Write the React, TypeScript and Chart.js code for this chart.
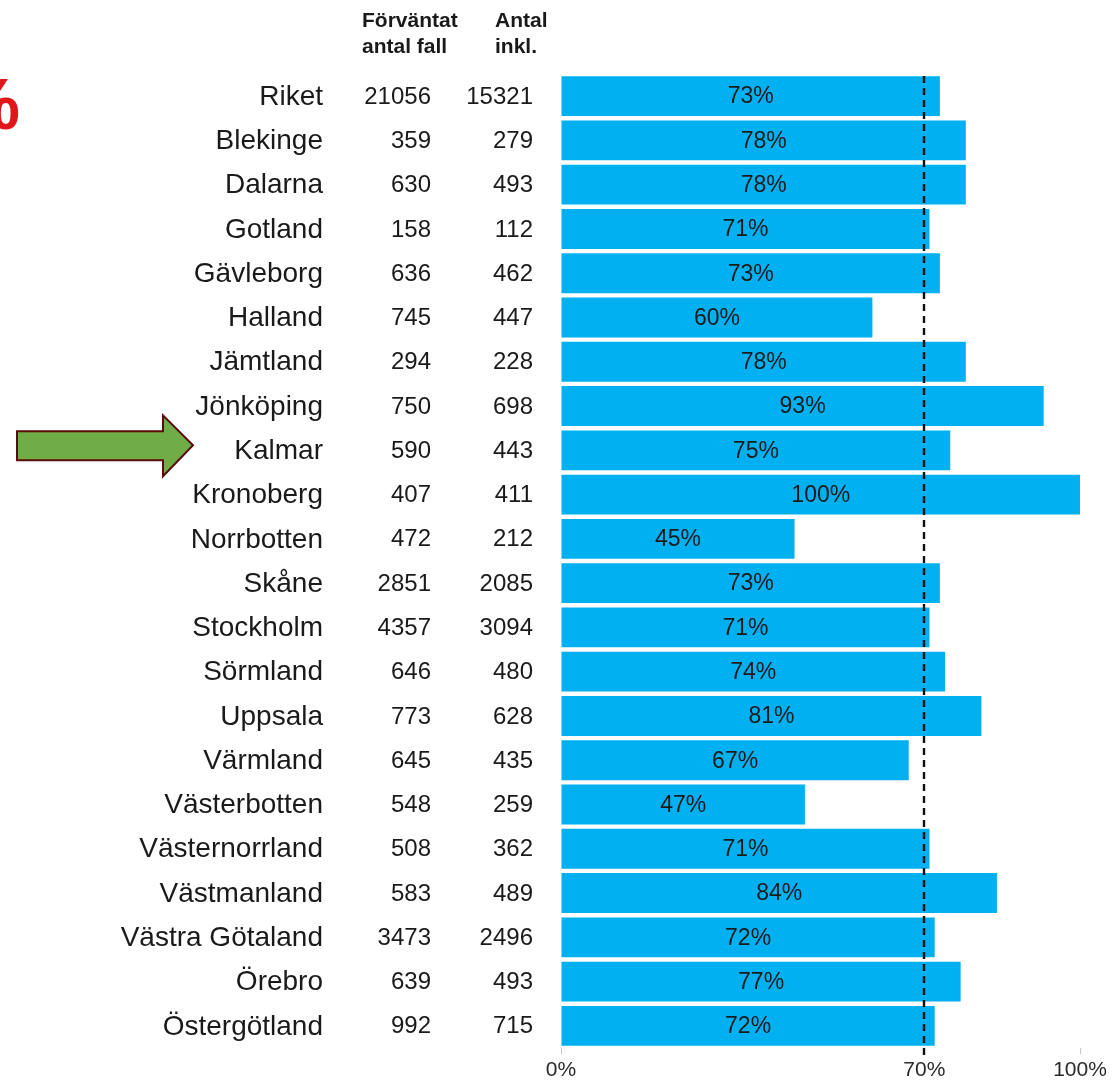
import React, { useEffect, useRef } from "react";
import { Chart, registerables } from "chart.js";

Chart.register(...registerables);

const categories = [
  "Riket", "Blekinge", "Dalarna", "Gotland", "Gävleborg", "Halland", "Jämtland",
  "Jönköping", "Kalmar", "Kronoberg", "Norrbotten", "Skåne", "Stockholm", "Sörmland",
  "Uppsala", "Värmland", "Västerbotten", "Västernorrland", "Västmanland",
  "Västra Götaland", "Örebro", "Östergötland",
];
const expectedCases = [
  21056, 359, 630, 158, 636, 745, 294, 750, 590, 407, 472, 2851, 4357, 646, 773, 645,
  548, 508, 583, 3473, 639, 992,
];
const includedCases = [
  15321, 279, 493, 112, 462, 447, 228, 698, 443, 411, 212, 2085, 3094, 480, 628, 435,
  259, 362, 489, 2496, 493, 715,
];
const coverage = [
  73, 78, 78, 71, 73, 60, 78, 93, 75, 100, 45, 73, 71, 74, 81, 67, 47, 71, 84, 72, 77, 72,
];
const xTicks = [0, 70, 100];
const targetLevel = 70;
const highlighted = "Kalmar";
const headerExpected = ["Förväntat", "antal fall"];
const headerIncluded = ["Antal", "inkl."];

const FONT = '"Liberation Sans", Arial, sans-serif';

const overlayPlugin = {
  id: "overlay",
  afterDatasetsDraw(chart: any) {
    const ctx = chart.ctx;
    const x = chart.scales.x;
    const y = chart.scales.y;
    const area = chart.chartArea;
    ctx.save();

    // bar value labels
    const meta = chart.getDatasetMeta(0);
    ctx.font = `23px ${FONT}`;
    ctx.fillStyle = "#1a1a1a";
    ctx.textAlign = "center";
    ctx.textBaseline = "middle";
    meta.data.forEach((bar: any, i: number) => {
      ctx.fillText(coverage[i] + "%", (bar.base + bar.x) / 2, bar.y + 1);
    });

    // dashed target line
    const xp = Math.round(x.getPixelForValue(targetLevel));
    ctx.strokeStyle = "#111";
    ctx.lineWidth = 2.4;
    ctx.setLineDash([7, 5]);
    ctx.beginPath();
    ctx.moveTo(xp, area.top + 2);
    ctx.lineTo(xp, area.bottom + 10);
    ctx.stroke();
    ctx.setLineDash([]);

    // left text columns
    categories.forEach((c, i) => {
      const yp = y.getPixelForValue(i);
      ctx.textAlign = "right";
      ctx.textBaseline = "middle";
      ctx.fillStyle = "#1a1a1a";
      ctx.font = `28px ${FONT}`;
      ctx.fillText(c, 323, yp + 1);
      ctx.font = `24px ${FONT}`;
      ctx.fillText(String(expectedCases[i]), 431, yp + 1);
      ctx.fillText(String(includedCases[i]), 533, yp + 1);
    });

    // headers
    ctx.font = `bold 21px ${FONT}`;
    ctx.textAlign = "left";
    ctx.textBaseline = "alphabetic";
    ctx.fillStyle = "#1a1a1a";
    ctx.fillText(headerExpected[0], 362, 27);
    ctx.fillText(headerExpected[1], 362, 53);
    ctx.fillText(headerIncluded[0], 495, 27);
    ctx.fillText(headerIncluded[1], 495, 53);

    // red cut-off symbol top-left
    ctx.font = `bold 72px ${FONT}`;
    ctx.fillStyle = "#E0161B";
    ctx.textAlign = "right";
    ctx.fillText("%", 20, 129);

    // green arrow pointing at highlighted row
    const hi = categories.indexOf(highlighted);
    const ay = y.getPixelForValue(hi) - 5;
    ctx.beginPath();
    ctx.moveTo(17, ay - 14);
    ctx.lineTo(163, ay - 14);
    ctx.lineTo(163, ay - 30);
    ctx.lineTo(193, ay);
    ctx.lineTo(163, ay + 31);
    ctx.lineTo(163, ay + 15);
    ctx.lineTo(17, ay + 15);
    ctx.closePath();
    ctx.fillStyle = "#70AD47";
    ctx.fill();
    ctx.strokeStyle = "#5A0A0A";
    ctx.lineWidth = 2;
    ctx.lineJoin = "miter";
    ctx.stroke();

    ctx.restore();
  },
};

export default function App() {
  const ref = useRef<HTMLCanvasElement>(null);
  useEffect(() => {
    if (!ref.current) return;
    const chart = new Chart(ref.current, {
      type: "bar",
      data: {
        labels: categories,
        datasets: [
          {
            data: coverage,
            backgroundColor: "#00B0F0",
            borderWidth: 0,
            barPercentage: 0.9,
            categoryPercentage: 1,
          },
        ],
      },
      options: {
        indexAxis: "y",
        animation: false,
        responsive: false,
        devicePixelRatio: 1,
        layout: { padding: { left: 561, top: 74, right: 35, bottom: 0 } },
        plugins: { legend: { display: false }, tooltip: { enabled: false } },
        scales: {
          y: { display: false, type: "category" },
          x: {
            min: 0,
            max: 100,
            afterBuildTicks: (scale: any) => {
              scale.ticks = xTicks.map((v) => ({ value: v }));
            },
            afterFit: (scale: any) => {
              scale.height = 35;
            },
            border: { display: false },
            grid: {
              drawOnChartArea: false,
              drawTicks: true,
              tickLength: 6,
              color: "#c8c8c8",
            },
            ticks: {
              padding: 4,
              maxRotation: 0,
              autoSkip: false,
              color: "#2a2a2a",
              font: { family: FONT, size: 21 },
              callback: (v: any) => v + "%",
            },
          },
        },
      } as any,
      plugins: [overlayPlugin],
    });
    return () => chart.destroy();
  }, []);
  return (
    <div style={{ position: "absolute", left: 0, top: 0, width: 1115, height: 1083 }}>
      <canvas ref={ref} width={1115} height={1083} />
    </div>
  );
}
